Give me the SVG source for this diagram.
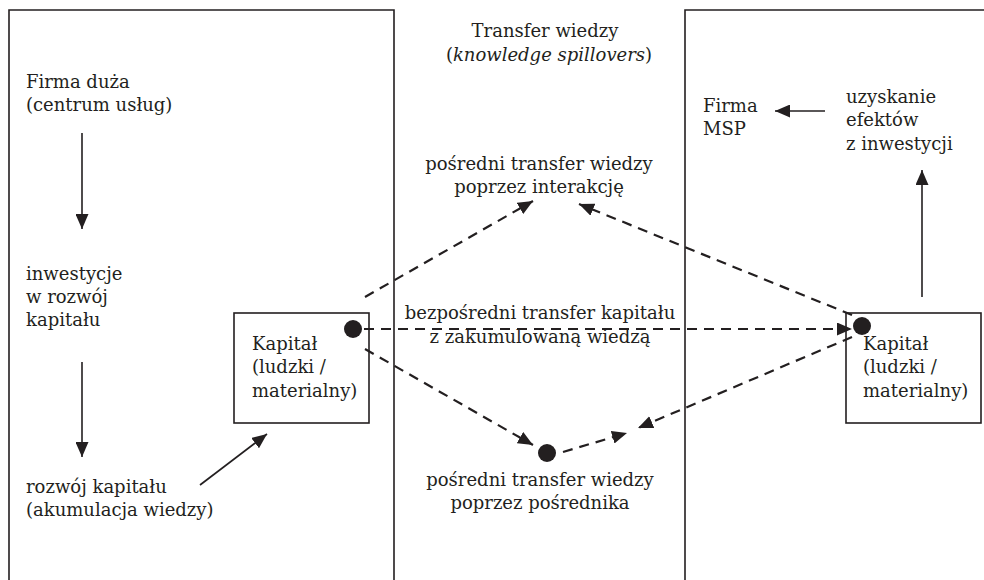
<svg xmlns="http://www.w3.org/2000/svg" width="984" height="580" viewBox="0 0 984 580">
<defs>
<marker id="ah" markerUnits="userSpaceOnUse" markerWidth="16" markerHeight="13" refX="15" refY="6.5" orient="auto">
<path d="M0,0 L15,6.5 L0,13 z" fill="#231f20"/>
</marker>
<style>
text{font-family:"DejaVu Serif","Liberation Serif",serif;font-size:18px;fill:#231f20}
.c{text-anchor:middle}
.frame{fill:none;stroke:#231f20;stroke-width:1.6}
.box{fill:#fff;stroke:#231f20;stroke-width:1.6}
.solid{fill:none;stroke:#231f20;stroke-width:1.6;marker-end:url(#ah)}
.dash{fill:none;stroke:#231f20;stroke-width:2.2;stroke-dasharray:10 7;marker-end:url(#ah)}
.dot{fill:#231f20}
</style>
</defs>
<g id="firma-duza">
<path class="frame" d="M9,580 V10 H394 V580"/>
<text x="26" y="88">Firma duża</text>
<text x="26" y="111">(centrum usług)</text>
<text x="26" y="280">inwestycje</text>
<text x="26" y="303">w rozwój</text>
<text x="26" y="326">kapitału</text>
<text x="26" y="493">rozwój kapitału</text>
<text x="26" y="516">(akumulacja wiedzy)</text>
</g>
<g id="firma-msp">
<path class="frame" d="M685,580 V10 H984"/>
<text x="703" y="112">Firma</text>
<text x="703" y="135">MSP</text>
<text x="846" y="103">uzyskanie</text>
<text x="846" y="126">efektów</text>
<text x="846" y="150">z inwestycji</text>
</g>
<g id="kapital-duza">
<rect class="box" x="234" y="313" width="135" height="110"/>
<text x="252" y="350">Kapitał</text>
<text x="252" y="373">(ludzki /</text>
<text x="252" y="397">materialny)</text>
</g>
<g id="kapital-msp">
<rect class="box" x="846" y="313" width="135" height="110"/>
<text x="863" y="350">Kapitał</text>
<text x="863" y="373">(ludzki /</text>
<text x="863" y="397">materialny)</text>
</g>
<g id="transfer-title">
<text class="c" x="545" y="37">Transfer wiedzy</text>
<text class="c" x="549" y="61">(<tspan font-style="italic">knowledge spillovers</tspan>)</text>
</g>
<g id="interakcja">
<text class="c" x="539" y="170">pośredni transfer wiedzy</text>
<text class="c" x="539" y="193">poprzez interakcję</text>
</g>
<g id="bezposredni">
<text class="c" x="540" y="319">bezpośredni transfer kapitału</text>
<text class="c" x="540" y="343">z zakumulowaną wiedzą</text>
</g>
<g id="posrednik">
<text class="c" x="540" y="486">pośredni transfer wiedzy</text>
<text class="c" x="540" y="509">poprzez pośrednika</text>
</g>
<g id="dots">
<circle class="dot" cx="353" cy="329" r="9"/>
<circle class="dot" cx="862" cy="326" r="9"/>
<circle class="dot" cx="547" cy="453" r="9"/>
</g>
<g id="connectors">
<line class="solid" x1="82" y1="133" x2="82" y2="229"/>
<line class="solid" x1="82" y1="362" x2="82" y2="457"/>
<line class="solid" x1="200" y1="485" x2="267" y2="434"/>
<line class="solid" x1="825" y1="111" x2="775" y2="111"/>
<line class="solid" x1="922" y1="297" x2="922" y2="170"/>
<line class="dash" x1="365" y1="297" x2="533" y2="201"/>
<line class="dash" x1="852" y1="315" x2="579" y2="204"/>
<line class="dash" x1="364" y1="329" x2="852" y2="329"/>
<line class="dash" x1="365" y1="349" x2="533" y2="445"/>
<line class="dash" x1="563" y1="452" x2="627" y2="433"/>
<line class="dash" x1="852" y1="337" x2="638" y2="428"/>
</g>
</svg>
